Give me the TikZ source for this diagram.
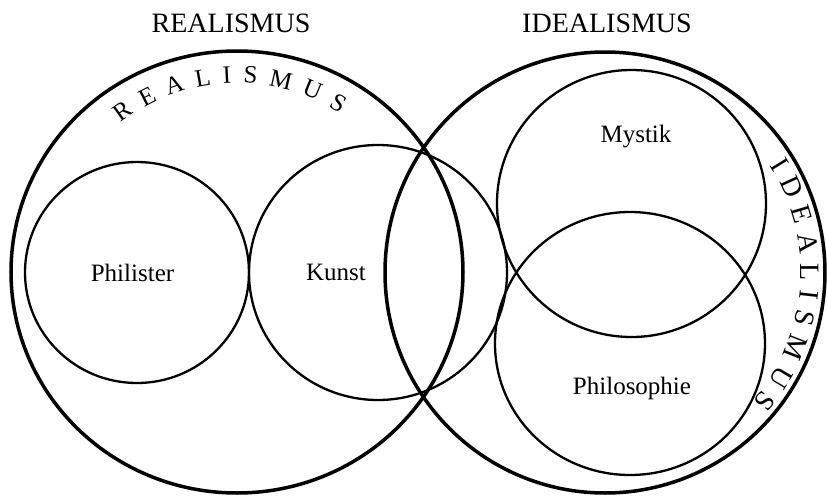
\documentclass[tikz,border=0pt]{standalone}
\usepackage{fontspec}
\setmainfont{Liberation Serif}
\usetikzlibrary{decorations.text}

\begin{document}
\begin{tikzpicture}[
  x=0.5pt, y=0.5pt,
  bigring/.style={draw, line width=1.75pt},
  ring/.style={draw, line width=1.15pt},
  title/.style={anchor=base, font=\fontsize{14}{16}\selectfont},
  lbl/.style={anchor=base, font=\fontsize{12.5}{14}\selectfont},
  arctext/.style={decorate, decoration={text along path, text align={fit to path}}}
]
\useasboundingbox (0,0) rectangle (827,495);

\coordinate (real) at (237,223);
\coordinate (ideal) at (605,222.5);
\coordinate (phil) at (137,222.5);
\coordinate (kunst) at (378,222.5);
\coordinate (myst) at (631.5,291.5);
\coordinate (philo) at (630,151.5);

% the two large circles
\draw[bigring] (real) ellipse [x radius=226, y radius=221];
\draw[bigring] (ideal) ellipse [x radius=220, y radius=220.5];

% inner circles
\draw[ring] (phil) ellipse [x radius=112, y radius=110.5];
\draw[ring] (kunst) ellipse [x radius=129, y radius=127.5];
\draw[ring] (myst) ellipse [x radius=134.5, y radius=133.5];
\draw[ring] (philo) ellipse [x radius=135, y radius=131.5];

\node[title] (realtitle) at (231,463) {REALISMUS};
\node[title] (idealtitle) at (607,463) {IDEALISMUS};

\node[lbl] (philister) at (132.5,214) {Philister};
\node[lbl] (kunstlbl) at (336,215) {Kunst};
\node[lbl] (mystik) at (636,353) {Mystik};
\node[lbl] (philosophie) at (632,101) {Philosophie};

% lettering along the circles
\path[arctext, decoration={text={|\fontsize{12.5}{14}\selectfont|REALISMUS}}]
  ([shift={(128:189)}]real) arc[start angle=128, end angle=57, radius=189];
\path[arctext, decoration={text={|\fontsize{14}{16}\selectfont|IDEALISMUS}}]
  ([shift={(33:196)}]ideal) arc[start angle=33, end angle=-41, radius=196];
\end{tikzpicture}
\end{document}
